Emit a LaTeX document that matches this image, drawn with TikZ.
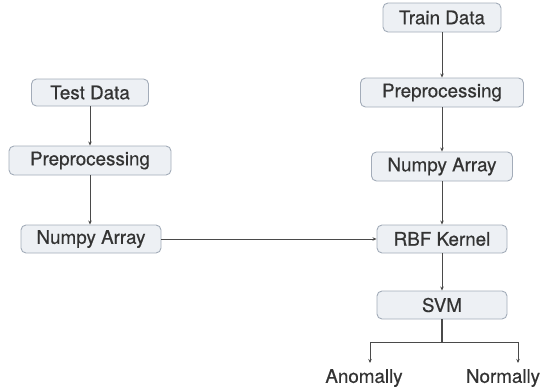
\documentclass[tikz,border=0pt]{standalone}
\usepackage{fontspec}
\setmainfont{TeX Gyre Heros}[FakeBold=0.5]
\usetikzlibrary{arrows.meta}
\definecolor{boxfill}{HTML}{EDF0F4}
\definecolor{boxline}{HTML}{A3ACB9}
\definecolor{linecol}{HTML}{4A4A4A}
\definecolor{txtcol}{HTML}{333333}
\tikzset{
  stepbox/.style={draw=boxline, fill=boxfill, rounded corners=5pt, line width=0.9pt,
    text=txtcol, font=\fontsize{18.8}{22}\selectfont, inner sep=0pt, align=center},
  outlabel/.style={text=txtcol, font=\fontsize{18.8}{22}\selectfont, inner sep=0pt},
  conn/.style={draw=linecol, line width=0.9pt},
  arr/.style={conn, -{Stealth[length=4pt,width=3.5pt]}}
}
\begin{document}
\begin{tikzpicture}[x=1pt,y=-1pt]
\useasboundingbox (0,0) rectangle (544,391);
% left column
\node[stepbox, minimum width=117pt, minimum height=27pt] (test) at (90,92.5) {Test Data};
\node[stepbox, minimum width=162pt, minimum height=29pt] (preL) at (90,160.5) {Preprocessing};
\node[stepbox, minimum width=140pt, minimum height=28pt] (numL) at (91,239) {Numpy Array};
% right column
\node[stepbox, minimum width=118pt, minimum height=29pt] (train) at (442,17.5) {Train Data};
\node[stepbox, minimum width=163pt, minimum height=29pt] (preR) at (442,92.5) {Preprocessing};
\node[stepbox, minimum width=141pt, minimum height=29pt] (numR) at (442,166.5) {Numpy Array};
\node[stepbox, minimum width=130pt, minimum height=28pt] (rbf) at (442,239) {RBF Kernel};
\node[stepbox, minimum width=130pt, minimum height=28pt] (svm) at (442,305) {SVM};
% outputs
\node[outlabel] (anom) at (364,378) {Anomally};
\node[outlabel] (norm) at (503,378) {Normally};
\coordinate (split) at (442,342);
\coordinate (la) at (370,342);
\coordinate (ra) at (518,342);
\coordinate (ea) at (370,363);
\coordinate (eb) at (518,363);
% connectors
\draw[arr] (test.south) -- (preL.north);
\draw[arr] (preL.south) -- (preL.south |- numL.north);
\draw[arr] (train.south) -- (preR.north);
\draw[arr] (preR.south) -- (numR.north);
\draw[arr] (numR.south) -- (rbf.north);
\draw[arr] (rbf.south) -- (svm.north);
\draw[arr] (numL.east) -- (rbf.west);
\draw[conn, line width=1.6pt] (svm.south) -- (split);
\draw[conn] (la) -- (ra);
\draw[arr] (la) -- (ea);
\draw[arr] (ra) -- (eb);
\end{tikzpicture}
\end{document}
